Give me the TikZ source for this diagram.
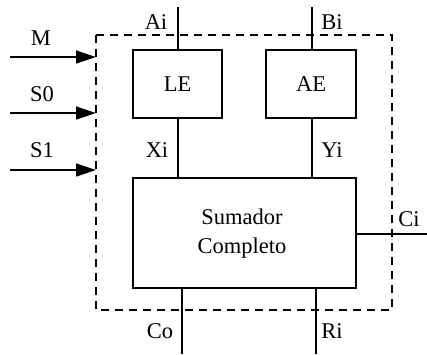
\documentclass[tikz,border=0pt]{standalone}
\usepackage{fontspec}
\setmainfont{Liberation Serif}
\usetikzlibrary{arrows.meta}
\newcommand{\lblfont}{\fontsize{22.5pt}{27pt}\selectfont}
\begin{document}
\begin{tikzpicture}[x=1pt,y=-1pt,
  wire/.style={line width=1.3pt},
  blockbox/.style={draw,line width=1.3pt,inner sep=0pt},
  lbl/.style={font=\lblfont,inner sep=0pt},
  inarrow/.style={line width=1.3pt,-{Triangle[length=20pt,width=13pt]}},
  frame/.style={line width=1.1pt,dash pattern=on 8pt off 6pt}]
\useasboundingbox (0,0) rectangle (427,354);
% dashed frame
\draw[frame] (96,35) rectangle (392,310);
% blocks
\node[blockbox,minimum width=89pt,minimum height=68pt] (le) at (177.5,84) {};
\node[lbl] at (le.center) {LE};
\node[blockbox,minimum width=90pt,minimum height=68pt] (ae) at (311,84) {};
\node[lbl] at (ae.center) {AE};
\node[blockbox,minimum width=223pt,minimum height=110pt] (sum) at (244.5,233) {};
\node[lbl] at (242,217) {Sumador};
\node[lbl] at (242,248) {Completo};
% external coordinates
\coordinate (ain) at (178,7);
\coordinate (bin) at (312,7);
\coordinate (cin) at (427,234);
\coordinate (cout) at (182,354);
\coordinate (rout) at (316,354);
\coordinate (m0) at (10,57);
\coordinate (m1) at (96,57);
\coordinate (s00) at (10,113);
\coordinate (s01) at (96,113);
\coordinate (s10) at (10,170);
\coordinate (s11) at (96,170);
% wires
\draw[wire] (ain) -- (ain |- le.north);
\draw[wire] (bin) -- (bin |- ae.north);
\draw[wire] (ain |- le.south) -- (ain |- sum.north);
\draw[wire] (bin |- ae.south) -- (bin |- sum.north);
\draw[wire] (sum.east |- cin) -- (cin);
\draw[wire] (cout |- sum.south) -- (cout);
\draw[wire] (rout |- sum.south) -- (rout);
% inputs
\draw[inarrow] (m0) -- (m1);
\draw[inarrow] (s00) -- (s01);
\draw[inarrow] (s10) -- (s11);
% labels
\node[lbl] (lm) at (41,38) {M};
\node[lbl] (ls0) at (42,94) {S0};
\node[lbl] (ls1) at (42,150) {S1};
\node[lbl] (lai) at (156,22) {Ai};
\node[lbl] (lbi) at (332,22) {Bi};
\node[lbl] (lxi) at (157,150) {Xi};
\node[lbl] (lyi) at (332,150) {Yi};
\node[lbl] (lci) at (409,219) {Ci};
\node[lbl] (lco) at (160,331) {Co};
\node[lbl] (lri) at (332,331) {Ri};
\end{tikzpicture}
\end{document}
